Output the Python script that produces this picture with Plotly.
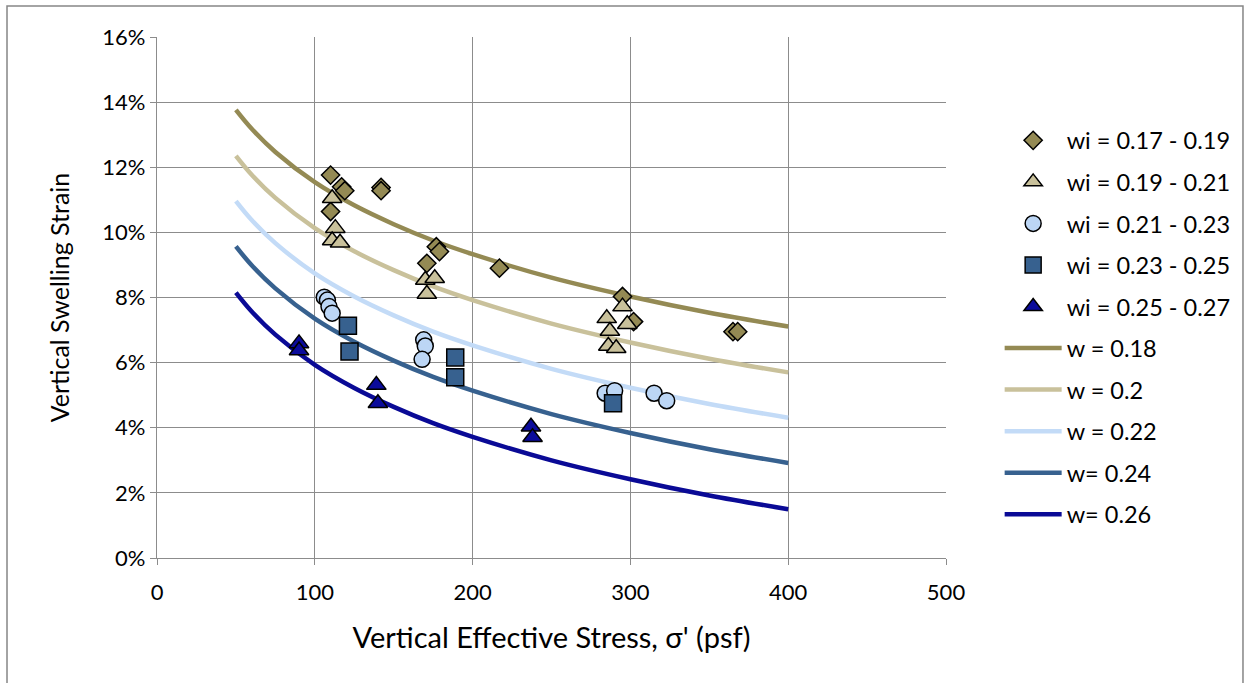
import plotly.graph_objects as go

# Measured swelling strain (%) vs vertical effective stress (psf), grouped by initial water content
wi_17_19_x = [110, 117, 119, 142, 142, 110, 177, 179, 171, 217, 295, 302, 365, 368]
wi_17_19_y = [11.76, 11.40, 11.28, 11.38, 11.28, 10.64, 9.56, 9.41, 9.05, 8.90, 8.03, 7.26, 6.95, 6.95]

wi_19_21_x = [111, 113, 111, 116, 170, 176, 171, 295, 285, 298, 287, 286, 291]
wi_19_21_y = [11.05, 10.13, 9.75, 9.68, 8.54, 8.59, 8.11, 7.72, 7.36, 7.18, 6.97, 6.51, 6.44]

wi_21_23_x = [106, 108, 109, 111, 169, 170, 168, 284, 290, 315, 323]
wi_21_23_y = [8.01, 7.92, 7.72, 7.52, 6.70, 6.51, 6.10, 5.06, 5.14, 5.06, 4.83]

wi_23_25_x = [121, 122, 189, 189, 289]
wi_23_25_y = [7.13, 6.34, 6.16, 5.55, 4.75]

wi_25_27_x = [90, 90, 139, 140, 237, 238]
wi_25_27_y = [6.59, 6.37, 5.31, 4.75, 4.03, 3.71]

# Model curves for constant water content
curve_x = [50, 60, 75, 100, 125, 150, 175, 200, 250, 300, 350, 400]
w_018 = [13.76, 13.18, 12.47, 11.54, 10.83, 10.25, 9.75, 9.33, 8.61, 8.03, 7.53, 7.11]
w_020 = [12.35, 11.77, 11.06, 10.13, 9.42, 8.84, 8.34, 7.92, 7.20, 6.62, 6.12, 5.70]
w_022 = [10.96, 10.38, 9.67, 8.74, 8.03, 7.45, 6.95, 6.53, 5.81, 5.23, 4.73, 4.31]
w_024 = [9.57, 8.99, 8.28, 7.35, 6.64, 6.06, 5.56, 5.14, 4.42, 3.84, 3.34, 2.92]
w_026 = [8.15, 7.57, 6.86, 5.93, 5.22, 4.64, 4.14, 3.72, 3.00, 2.42, 1.92, 1.50]

x_ticks = [0, 100, 200, 300, 400, 500]
y_ticks = [0, 2, 4, 6, 8, 10, 12, 14, 16]

FONT = "Lato"
GRID = "#8c8c8c"

fig = go.Figure()

scatter_sets = [
    ("wi = 0.17 - 0.19", wi_17_19_x, wi_17_19_y, "diamond", 14, "#948a54"),
    ("wi = 0.19 - 0.21", wi_19_21_x, wi_19_21_y, "triangle-up", 17, "#c9c19b"),
    ("wi = 0.21 - 0.23", wi_21_23_x, wi_21_23_y, "circle", 16, "#bcd6f5"),
    ("wi = 0.23 - 0.25", wi_23_25_x, wi_23_25_y, "square", 17, "#37618f"),
    ("wi = 0.25 - 0.27", wi_25_27_x, wi_25_27_y, "triangle-up", 17, "#0b0b9b"),
]

curve_sets = [
    ("w = 0.18", w_018, "#948a54"),
    ("w = 0.2", w_020, "#c9c19b"),
    ("w = 0.22", w_022, "#c3dbf7"),
    ("w= 0.24", w_024, "#37618f"),
    ("w= 0.26", w_026, "#0a0a96"),
]

# Curves first so the markers sit on top of them
for i, (name, ys, color) in enumerate(curve_sets):
    fig.add_trace(go.Scatter(
        x=curve_x, y=ys, mode="lines", name=name,
        line=dict(color=color, width=4.5, shape="spline"),
        legendgroup=f"c{i}", legendrank=100 + i,
    ))

for i, (name, xs, ys, sym, size, color) in enumerate(scatter_sets):
    fig.add_trace(go.Scatter(
        x=xs, y=ys, mode="markers", name=name,
        marker=dict(symbol=sym, size=size, color=color,
                    line=dict(color="black", width=1.5)),
        legendgroup=f"m{i}", legendrank=i,
    ))

fig.update_layout(
    width=1250, height=683,
    margin=dict(l=157, r=304, t=37, b=125),
    paper_bgcolor="white", plot_bgcolor="white",
    font=dict(family=FONT, size=22, color="black"),
    showlegend=True,
    legend=dict(
        x=1.068, y=0.8435, xanchor="left", yanchor="top",
        traceorder="grouped", tracegroupgap=8,
        itemwidth=57, font=dict(family=FONT, size=23.5),
        bgcolor="rgba(0,0,0,0)",
    ),
    shapes=[dict(
        type="rect", xref="paper", yref="paper",
        x0=-0.1901, x1=1.3764, y0=-0.27, y1=1.0595,
        line=dict(color="#868686", width=1.5), fillcolor="rgba(0,0,0,0)",
        layer="below",
    )],
)

fig.update_xaxes(
    range=[0, 500], tickvals=x_ticks, ticktext=[str(v) for v in x_ticks],
    showgrid=True, gridcolor=GRID, gridwidth=1.3,
    showline=True, linecolor=GRID, linewidth=1.3,
    ticks="outside", ticklen=6, tickcolor=GRID, ticklabelstandoff=8,
    zeroline=False,
    tickfont=dict(family=FONT, size=22),
    title=dict(text="Vertical Effective Stress, σ' (psf)", font=dict(family=FONT, size=29), standoff=24),
)
fig.update_yaxes(
    range=[0, 16], tickvals=y_ticks, ticktext=[f"{v}%" for v in y_ticks],
    showgrid=True, gridcolor=GRID, gridwidth=1.3,
    showline=True, linecolor=GRID, linewidth=1.3,
    ticks="outside", ticklen=6, tickcolor=GRID,
    zeroline=False,
    tickfont=dict(family=FONT, size=22),
    title=dict(text="Vertical Swelling Strain", font=dict(family=FONT, size=25), standoff=25),
)

fig.write_html("out.html")
